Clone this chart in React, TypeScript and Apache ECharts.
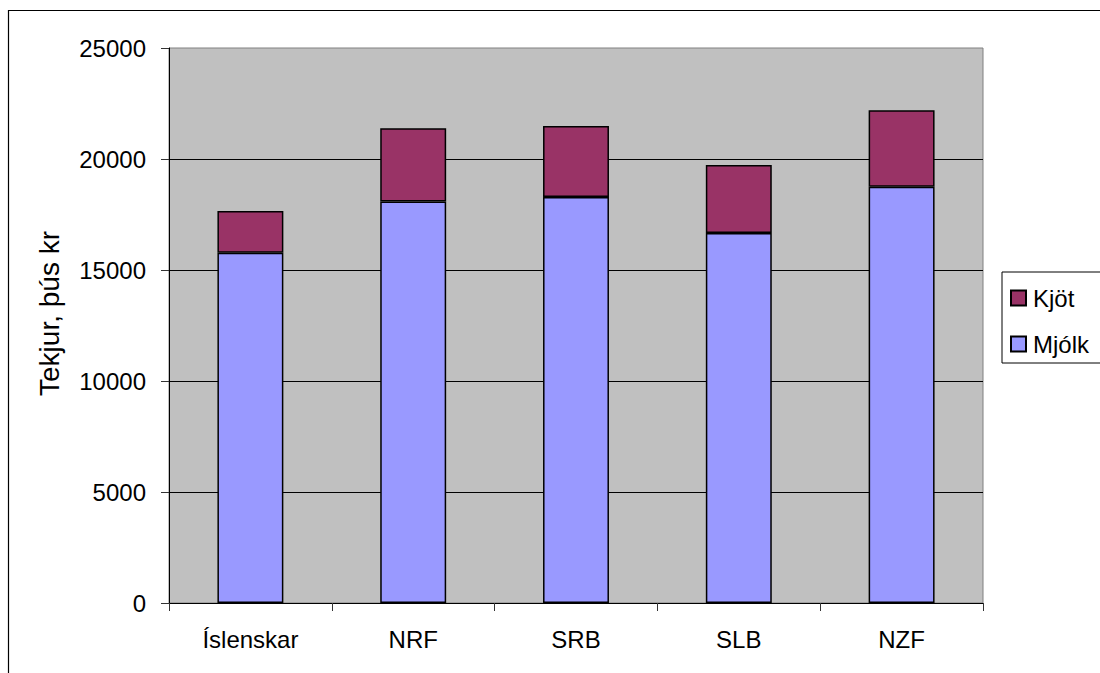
import React, { useEffect, useRef } from "react";
import * as echarts from "echarts";

const categories = ["Íslenskar", "NRF", "SRB", "SLB", "NZF"];
const mjolk = [15780, 18080, 18290, 16670, 18750];
const kjot = [1880, 3300, 3200, 3060, 3450];
const yTicks = { min: 0, max: 25000, interval: 5000 };

const FONT = "'Liberation Sans', Arial, Helvetica, sans-serif";

export default function App() {
  const ref = useRef<HTMLDivElement>(null);
  useEffect(() => {
    if (!ref.current) return;
    const chart = echarts.init(ref.current, undefined, { renderer: "svg" });
    chart.setOption({
      animation: false,
      backgroundColor: "#ffffff",
      textStyle: { fontFamily: FONT },
      graphic: [
        {
          type: "rect",
          shape: { x: 8.5, y: 10.5, width: 1200, height: 800 },
          style: { fill: "none", stroke: "#000", lineWidth: 1.2 },
          silent: true,
          z: 100,
        },
      ],
      grid: {
        left: 169,
        right: 117,
        top: 48,
        bottom: 70,
        show: true,
        backgroundColor: "#c0c0c0",
        borderColor: "#808080",
        borderWidth: 1,
      },
      legend: {
        orient: "vertical",
        left: 1002,
        top: 272,
        data: ["Kjöt", "Mjólk"],
        icon: "rect",
        itemWidth: 15,
        itemHeight: 15,
        itemGap: 22,
        padding: [14, 60, 7, 8],
        borderColor: "#000",
        borderWidth: 1,
        backgroundColor: "#fff",
        textStyle: { fontSize: 24, color: "#000", fontFamily: FONT, padding: [0, 0, 0, 2] },
      },
      xAxis: {
        type: "category",
        data: categories,
        boundaryGap: true,
        axisLine: { lineStyle: { color: "#000", width: 1 } },
        axisTick: { show: true, length: 8, lineStyle: { color: "#333" } },
        axisLabel: { fontSize: 24, color: "#000", margin: 24, fontFamily: FONT },
        splitLine: { show: false },
      },
      yAxis: {
        type: "value",
        min: yTicks.min,
        max: yTicks.max,
        interval: yTicks.interval,
        name: "Tekjur, þús kr",
        nameLocation: "middle",
        nameRotate: 90,
        nameGap: 106,
        nameTextStyle: { fontSize: 28, color: "#000", fontFamily: FONT, padding: [0, 0, 0, 24] },
        axisLine: { show: true, lineStyle: { color: "#000", width: 1 } },
        axisTick: { show: true, length: 8, lineStyle: { color: "#333" } },
        axisLabel: {
          fontSize: 24,
          color: "#000",
          margin: 23,
          fontFamily: FONT,
          formatter: (v: number) => String(v),
        },
        splitLine: { show: true, showMaxLine: false, lineStyle: { color: "#000", width: 1 } },
      },
      series: [
        {
          name: "Mjólk",
          type: "bar",
          stack: "total",
          data: mjolk,
          barWidth: "40.5%",
          itemStyle: { color: "#9999ff", borderColor: "#000", borderWidth: 1.5 },
        },
        {
          name: "Kjöt",
          type: "bar",
          stack: "total",
          data: kjot,
          barWidth: "40.5%",
          itemStyle: { color: "#993366", borderColor: "#000", borderWidth: 1.5 },
        },
      ],
    });
    return () => chart.dispose();
  }, []);
  return (
    <div
      ref={ref}
      style={{ position: "fixed", left: 0, top: 0, width: 1100, height: 673 }}
    />
  );
}
